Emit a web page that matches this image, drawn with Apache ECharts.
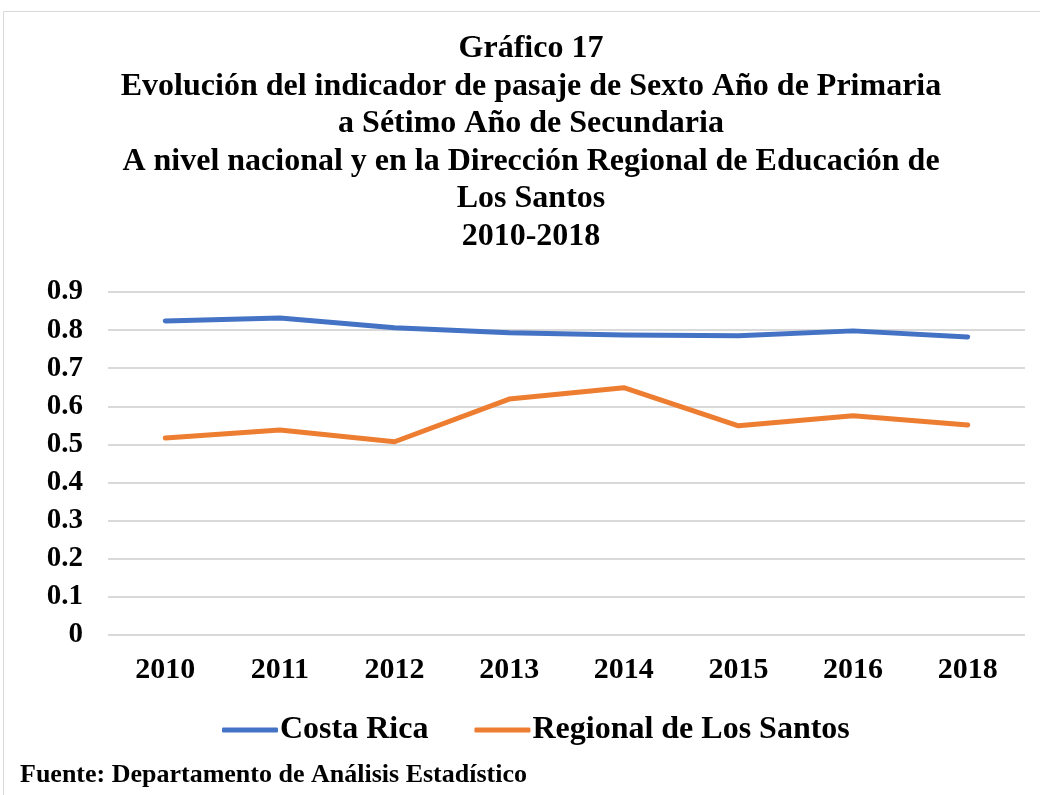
<!DOCTYPE html>
<html><head><meta charset="utf-8">
<script src="https://cdn.jsdelivr.net/npm/echarts@6/dist/echarts.min.js"></script>
<style>html,body{margin:0;padding:0;background:#fff}#c{width:1040px;height:795px}</style>
</head><body><div id="c"></div>
<script>
const titleLines = ["Gráfico 17","Evolución del indicador de pasaje de Sexto Año de Primaria","a Sétimo Año de Secundaria","A nivel nacional y en la Dirección Regional de Educación de","Los Santos","2010-2018"];
const categories = ["2010","2011","2012","2013","2014","2015","2016","2018"];
const costaRica = [0.824,0.832,0.806,0.793,0.787,0.785,0.798,0.782];
const losSantos = [0.517,0.538,0.507,0.619,0.649,0.549,0.575,0.551];
const yTicks = {min:0,max:0.9,interval:0.1};
const footer = "Fuente: Departamento de Análisis Estadístico";
const serif = '"Liberation Serif","Times New Roman",serif';
const chart = echarts.init(document.getElementById('c'));
chart.setOption({
  animation:false,
  backgroundColor:'#fff',
  title:{text:titleLines.join('\n'),left:526,textAlign:'center',top:25,
    textStyle:{fontFamily:serif,fontWeight:'bold',fontSize:32,color:'#000',lineHeight:37.5}},
  graphic:[
    {type:'rect',shape:{x:3.5,y:11.5,width:1100,height:900},style:{fill:null,stroke:'#d9d9d9',lineWidth:1}},
    {type:'text',left:20,top:762,style:{text:footer,font:'bold 26px '+serif,fill:'#000'}}
  ],
  legend:{top:709,left:217,itemWidth:56,itemHeight:5,itemGap:46,icon:'roundRect',
    textStyle:{fontFamily:serif,fontWeight:'bold',fontSize:32,color:'#000',padding:[0,0,0,-3]},
    data:['Costa Rica','Regional de Los Santos']},
  grid:{left:108,right:15,top:292,bottom:160,containLabel:false},
  xAxis:{type:'category',data:categories,boundaryGap:true,
    axisLine:{show:false},axisTick:{show:false},
    axisLabel:{fontFamily:serif,fontWeight:'bold',fontSize:30,color:'#000',margin:20}},
  yAxis:{type:'value',min:yTicks.min,max:yTicks.max,interval:yTicks.interval,
    axisLine:{show:false},axisTick:{show:false},
    splitLine:{lineStyle:{color:'#d9d9d9',width:2}},
    axisLabel:{fontFamily:serif,fontWeight:'bold',fontSize:29,color:'#000',margin:25,
      formatter:v=>v===0?'0':v.toFixed(1)}},
  series:[
    {name:'Costa Rica',type:'line',data:costaRica,symbol:'none',
      lineStyle:{color:'#4472C4',width:5,cap:'round',join:'round'},itemStyle:{color:'#4472C4'}},
    {name:'Regional de Los Santos',type:'line',data:losSantos,symbol:'none',
      lineStyle:{color:'#ED7D31',width:5,cap:'round',join:'round'},itemStyle:{color:'#ED7D31'}}
  ]
});
</script></body></html>
